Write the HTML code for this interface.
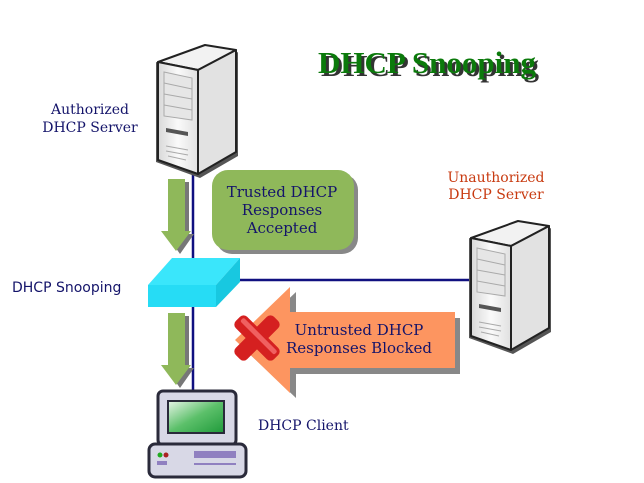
<!DOCTYPE html>
<html><head><meta charset="utf-8"><style>body{margin:0;background:#fff}svg{display:block}</style></head><body>
<svg width="644" height="483" viewBox="0 0 644 483" xmlns="http://www.w3.org/2000/svg">
<defs>
<linearGradient id="srv" x1="0" x2="1"><stop offset="0" stop-color="#d8d8d8"/><stop offset="0.5" stop-color="#fafafa"/><stop offset="1" stop-color="#e0e0e0"/></linearGradient>
<linearGradient id="scr" x1="0" y1="0" x2="1" y2="1"><stop offset="0" stop-color="#e8f5e8"/><stop offset="0.5" stop-color="#5cc06a"/><stop offset="1" stop-color="#1f9a3a"/></linearGradient>
<g id="server">
<polygon points="0,16 42,26 82,6 82,110 44,132 0,116" fill="#555"/>
<polygon points="2,16 42,24 80,4 49,-1" fill="#f2f2f2" stroke="#222" stroke-width="2" stroke-linejoin="round"/>
<polygon points="42,24 80,4 80,106 42,128" fill="#e2e2e2" stroke="#222" stroke-width="2" stroke-linejoin="round"/>
<polygon points="2,16 42,24 42,128 2,114" fill="url(#srv)" stroke="#222" stroke-width="2" stroke-linejoin="round"/>
<polygon points="8,26 36,32 36,74 8,70" fill="#e6e6e6" stroke="#aaa"/>
<line x1="8" y1="37" x2="36" y2="43" stroke="#aaa"/><line x1="8" y1="48" x2="36" y2="53" stroke="#aaa"/><line x1="8" y1="59" x2="36" y2="64" stroke="#aaa"/>
<polygon points="10,82 32,86 32,90 10,86" fill="#555"/>
<line x1="10" y1="100" x2="32" y2="104" stroke="#aaa"/><line x1="10" y1="105" x2="32" y2="109" stroke="#aaa"/><line x1="12" y1="110" x2="30" y2="114" stroke="#aaa"/>
</g>
</defs>
<line x1="193" y1="170" x2="193" y2="392" stroke="#101080" stroke-width="2.5"/>
<line x1="230" y1="280" x2="470" y2="280" stroke="#101080" stroke-width="2.5"/>
<use href="#server" x="156" y="46"/>
<use href="#server" x="469" y="222"/>
<g fill="#777"><polygon points="172,182 189,182 189,234 194,234 180,254 166,234 172,234"/><polygon points="172,316 189,316 189,368 194,368 180,388 166,368 172,368"/></g>
<g fill="#8fb85a"><polygon points="168,179 185,179 185,231 191,231 176,251 161,231 168,231"/><polygon points="168,313 185,313 185,365 191,365 176,385 161,365 168,365"/></g>
<rect x="216" y="174" width="142" height="80" rx="16" fill="#888"/>
<rect x="212" y="170" width="142" height="80" rx="16" fill="#8fb85a"/>
<text font-family="DejaVu Serif, Liberation Serif, serif" font-size="15" fill="#14146a" text-anchor="middle"><tspan x="282" y="197">Trusted DHCP</tspan><tspan x="282" y="215">Responses</tspan><tspan x="282" y="233">Accepted</tspan></text>
<polygon points="148,285 172,258 240,258 216,285" fill="#3ae6fb"/>
<polygon points="216,285 240,258 240,282 216,307" fill="#18c8e0"/>
<rect x="148" y="285" width="68" height="22" fill="#26dcf5"/>
<polygon points="296,292 296,318 460,318 460,374 296,374 296,398 240,345" fill="#888"/>
<polygon points="290,287 290,312 455,312 455,368 290,368 290,393 235,340" fill="#fd9560"/>
<text font-family="DejaVu Serif, Liberation Serif, serif" font-size="15" fill="#14146a" text-anchor="middle"><tspan x="359" y="335">Untrusted DHCP</tspan><tspan x="359" y="353">Responses Blocked</tspan></text>
<g transform="translate(257,338) rotate(45)"><rect x="-27" y="-8" width="54" height="16" rx="5" fill="#d52020"/><rect x="-8" y="-27" width="16" height="54" rx="5" fill="#d52020"/><rect x="-24" y="-5" width="48" height="5" rx="2" fill="#f06060"/></g>
<rect x="158" y="391" width="78" height="54" rx="5" fill="#d8d8e6" stroke="#2a2a3a" stroke-width="3"/>
<rect x="168" y="401" width="56" height="32" fill="url(#scr)" stroke="#2a2a3a" stroke-width="2"/>
<rect x="149" y="444" width="97" height="33" rx="6" fill="#d8d8e6" stroke="#2a2a3a" stroke-width="3"/>
<circle cx="160" cy="455" r="2.5" fill="#2a2"/><circle cx="166" cy="455" r="2.5" fill="#a22"/>
<rect x="157" y="461" width="10" height="4" fill="#9080c0"/>
<rect x="194" y="451" width="42" height="7" fill="#9080c0"/><rect x="194" y="463" width="42" height="2" fill="#9080c0"/>
<text x="430" y="76" font-family="Liberation Serif, serif" font-weight="bold" font-size="31" fill="#333" text-anchor="middle">DHCP Snooping</text>
<text x="427" y="73" font-family="Liberation Serif, serif" font-weight="bold" font-size="31" fill="#0b7a0b" text-anchor="middle">DHCP Snooping</text>
<g font-family="DejaVu Serif, Liberation Serif, serif" font-size="14" fill="#14146a">
<text x="90" y="114" text-anchor="middle">Authorized</text><text x="90" y="132" text-anchor="middle">DHCP Server</text>
<text x="258" y="430">DHCP Client</text>
</g>
<text x="12" y="292" font-family="DejaVu Sans, Liberation Sans, sans-serif" font-size="14" fill="#14146a">DHCP Snooping</text>
<g font-family="DejaVu Serif, Liberation Serif, serif" font-size="14" fill="#c83a10" text-anchor="middle"><text x="496" y="182">Unauthorized</text><text x="496" y="199">DHCP Server</text></g>
</svg>
</body></html>
